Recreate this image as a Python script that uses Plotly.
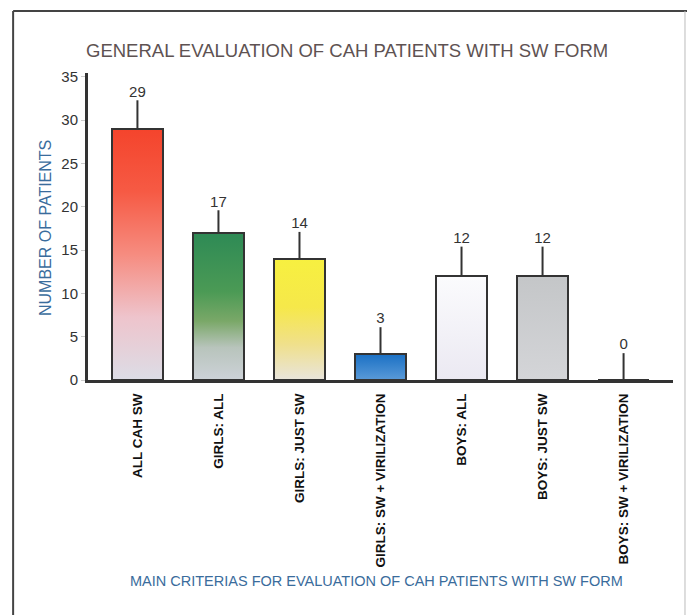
import plotly.graph_objects as go

# Data
categories = [
    "ALL CAH SW",
    "GIRLS: ALL",
    "GIRLS: JUST SW",
    "GIRLS: SW + VIRILIZATION",
    "BOYS: ALL",
    "BOYS: JUST SW",
    "BOYS: SW + VIRILIZATION",
]
patients = [29, 17, 14, 3, 12, 12, 0]
spread = [3.3, 2.6, 3.1, 3.1, 3.4, 3.4, 3.1]
y_ticks = [0, 5, 10, 15, 20, 25, 30, 35]

# Styling
bar_width = 0.63
gradients = [
    [[0, "#dcdde6"], [0.25, "#eec4cc"], [0.5, "#f68c80"], [0.75, "#f65a44"], [1, "#f4442c"]],
    [[0, "#cdd2d8"], [0.22, "#b8c4bc"], [0.4, "#7aa868"], [0.6, "#4b9a55"], [1, "#2e8a55"]],
    [[0, "#e8e4dc"], [0.3, "#f0e08a"], [0.6, "#f6e84a"], [1, "#f7f040"]],
    [[0, "#5a9ad8"], [1, "#1a70c4"]],
    [[0, "#ebe9f2"], [1, "#fbfbfd"]],
    [[0, "#d4d5d8"], [1, "#c4c6c8"]],
    [[0, "#d4d5d8"], [1, "#c4c6c8"]],
]
dark = "#333333"
blue_text = "#3a6c9c"
x_range = [-0.61, 6.61]
y_range = [0, 35.45]

fig = go.Figure()

# Gradient fills for each bar (base axes)
for i, (v, cs) in enumerate(zip(patients, gradients)):
    if v <= 0:
        continue
    x0, x1 = i - bar_width / 2, i + bar_width / 2
    fig.add_trace(go.Scatter(
        x=[x0, x1, x1, x0, x0], y=[0, 0, v, v, 0],
        fill="toself", mode="lines",
        line=dict(width=0, color="rgba(0,0,0,0)"),
        fillgradient=dict(type="vertical", colorscale=cs, start=0, stop=v),
        hoverinfo="skip", showlegend=False,
    ))

# Bar outlines with upward spread lines (overlay axes, drawn on top)
fig.add_trace(go.Bar(
    x=list(range(len(categories))), y=patients, width=bar_width,
    marker=dict(color="rgba(0,0,0,0)", line=dict(color=dark, width=2)),
    error_y=dict(type="data", array=spread, arrayminus=[0] * len(spread),
                 symmetric=False, width=0, thickness=2, color=dark),
    xaxis="x2", yaxis="y2", showlegend=False,
))

# Value labels above the spread lines
fig.add_trace(go.Scatter(
    x=list(range(len(categories))),
    y=[v + e for v, e in zip(patients, spread)],
    mode="text", text=[str(v) for v in patients],
    textposition="top center",
    textfont=dict(size=15, color=dark),
    xaxis="x2", yaxis="y2", showlegend=False, hoverinfo="skip",
))

fig.update_layout(
    width=687, height=615,
    margin=dict(l=88, r=14, t=73, b=235),
    paper_bgcolor="white", plot_bgcolor="white",
    font=dict(family="Liberation Sans, Arial, sans-serif", color=dark),
    xaxis=dict(
        range=x_range, tickvals=list(range(len(categories))), ticktext=categories,
        tickangle=-90, tickfont=dict(size=13.5, color="#111", weight="bold"),
        showline=True, linecolor=dark, linewidth=3, ticks="",
        showgrid=False, zeroline=False, ticklabelstandoff=5,
    ),
    yaxis=dict(
        range=y_range, tickvals=y_ticks, tickfont=dict(size=15, color=dark),
        showline=True, linecolor=dark, linewidth=3,
        ticks="outside", ticklen=4, tickcolor="#cccccc",
        showgrid=False, zeroline=False,
    ),
    xaxis2=dict(range=x_range, overlaying="x", visible=False),
    yaxis2=dict(range=y_range, overlaying="y", visible=False),
    bargap=0,
)

annotations = [
    dict(text="GENERAL EVALUATION OF CAH PATIENTS WITH SW FORM",
         x=0.443, y=1.072, xref="paper", yref="paper", showarrow=False,
         xanchor="center", yanchor="middle",
         font=dict(size=18.5, color="#5e5252")),
    dict(text="NUMBER OF PATIENTS", textangle=-90,
         x=-0.0735, y=0.495, xref="paper", yref="paper", showarrow=False,
         xanchor="center", yanchor="middle",
         font=dict(size=16, color=blue_text)),
    dict(text="MAIN CRITERIAS FOR EVALUATION OF CAH PATIENTS WITH SW FORM",
         x=0.494, y=-0.654, xref="paper", yref="paper", showarrow=False,
         xanchor="center", yanchor="middle",
         font=dict(size=14.5, color=blue_text)),
]
fig.update_layout(annotations=annotations)

# Page frame
fig.add_shape(type="line", xref="paper", yref="paper",
              x0=-0.128, x1=-0.128, y0=-0.78, y1=1.202,
              line=dict(color="#444", width=2))
fig.add_shape(type="line", xref="paper", yref="paper",
              x0=-0.128, x1=1.03, y0=1.202, y1=1.202,
              line=dict(color="#444", width=2))
fig.add_shape(type="line", xref="paper", yref="paper",
              x0=1.0205, x1=1.0205, y0=-0.78, y1=1.202,
              line=dict(color="#bbbbbb", width=1))

fig.write_html("out.html")
